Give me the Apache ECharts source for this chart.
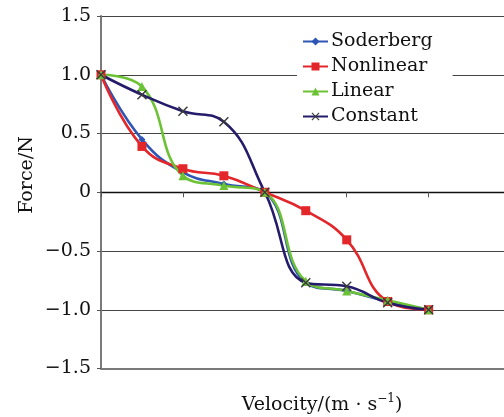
<!DOCTYPE html>
<html>
<head>
<meta charset="utf-8">
<script src="https://cdn.jsdelivr.net/npm/echarts@6/dist/echarts.min.js"></script>
<style>
  html, body { margin: 0; padding: 0; background: #fff; }
  #chart { width: 504px; height: 417px; }
</style>
</head>
<body>
<div id="chart"></div>
<script>
// Sample positions along the velocity axis (evenly spaced)
const xSteps = [0, 1, 2, 3, 4, 5, 6, 7, 8];

// Friction force curves for the four models
const soderberg = [1.0, 0.45, 0.17, 0.07, 0.0, -0.77, -0.84, -0.93, -1.0];
const nonlinear = [1.0, 0.39, 0.20, 0.14, 0.0, -0.157, -0.405, -0.93, -1.0];
const linear    = [1.0, 0.90, 0.14, 0.057, 0.0, -0.757, -0.84, -0.92, -1.0];
const constant  = [1.0, 0.83, 0.69, 0.60, 0.0, -0.77, -0.80, -0.94, -1.0];

const seriesNames = ['Soderberg', 'Nonlinear', 'Linear', 'Constant'];
const yTicks = [-1.5, -1.0, -0.5, 0, 0.5, 1.0, 1.5];

const FONT = 'DejaVu Serif';
const crossPath = 'path://M0,1L1,0L5,4L9,0L10,1L6,5L10,9L9,10L5,6L1,10L0,9L4,5Z';

function pairs(vals) {
  return xSteps.map((x, i) => [x, vals[i]]);
}

function fmtTick(v) {
  if (Math.abs(v) < 1e-9) return '0';
  const s = Math.abs(v).toFixed(1);
  return v < 0 ? '\u2212' + s : s;
}

const chart = echarts.init(document.getElementById('chart'), null, { renderer: 'canvas' });

const lineSeries = (name, data, color, symbol, size, extra) => Object.assign({
  name: name,
  type: 'line',
  data: pairs(data),
  smooth: 0.45,
  symbol: symbol,
  symbolSize: size,
  showSymbol: true,
  lineStyle: { color: color, width: 2.6 },
  itemStyle: { color: color },
  emphasis: { disabled: true },
  animation: false,
  z: 3
}, extra || {});

chart.setOption({
  animation: false,
  backgroundColor: '#ffffff',
  grid: { left: 101, right: 0, top: 16, bottom: 48.5, containLabel: false },
  legend: {
    orient: 'vertical',
    left: 297,
    top: 28,
    backgroundColor: '#ffffff',
    padding: [4, 20, 4, 5],
    itemWidth: 25,
    itemHeight: 10,
    itemGap: 6,
    data: seriesNames,
    textStyle: { fontFamily: FONT, fontSize: 19, color: '#111', padding: [0, 0, 0, -2] },
    z: 10
  },
  xAxis: [
    {
      type: 'value',
      min: 0,
      max: 9.84,
      interval: 2,
      axisLine: { show: true, onZero: true, lineStyle: { color: '#111', width: 1.4 } },
      axisTick: { show: true, length: 5, inside: false, lineStyle: { color: '#555', width: 1 } },
      axisLabel: { show: false },
      splitLine: { show: false }
    },
    {
      type: 'value',
      position: 'bottom',
      min: 0,
      max: 9.84,
      axisLine: { show: true, onZero: false, lineStyle: { color: '#7a7a7a', width: 2 } },
      axisTick: { show: false },
      axisLabel: { show: false },
      splitLine: { show: false }
    }
  ],
  yAxis: {
    type: 'value',
    min: yTicks[0],
    max: yTicks[yTicks.length - 1],
    interval: 0.5,
    axisLine: { show: true, onZero: false, lineStyle: { color: '#7a7a7a', width: 2 } },
    axisTick: { show: true, length: 4, inside: false, lineStyle: { color: '#555', width: 1 } },
    axisLabel: {
      margin: 10,
      fontFamily: FONT,
      fontSize: 19,
      color: '#111',
      formatter: fmtTick
    },
    splitLine: { show: true, lineStyle: { color: '#444', width: 1 } }
  },
  graphic: [
    {
      type: 'text',
      x: 27,
      y: 175,
      rotation: Math.PI / 2,
      style: {
        text: 'Force/N',
        fontFamily: FONT,
        fontSize: 19,
        fill: '#111',
        align: 'center',
        verticalAlign: 'middle'
      }
    },
    {
      type: 'text',
      x: 322,
      y: 405,
      style: {
        text: '{n|Velocity/(m · s}{sup|\u22121}{n|)}',
        align: 'center',
        verticalAlign: 'middle',
        rich: {
          n: { fontFamily: FONT, fontSize: 19, fill: '#111', lineHeight: 24 },
          sup: { fontFamily: FONT, fontSize: 12, fill: '#111', lineHeight: 24, verticalAlign: 'top', padding: [0, 0, 0, 0] }
        }
      }
    }
  ],
  series: [
    lineSeries('Soderberg', soderberg, '#2f55b5', 'diamond', 7),
    lineSeries('Nonlinear', nonlinear, '#e3262a', 'rect', 9),
    lineSeries('Linear', linear, '#6cc235', 'triangle', 9),
    lineSeries('Constant', constant, '#241c6b', crossPath, 10, {
      itemStyle: { color: '#3a3a3a' },
      lineStyle: { color: '#241c6b', width: 2.6 }
    })
  ]
});
</script>
</body>
</html>
